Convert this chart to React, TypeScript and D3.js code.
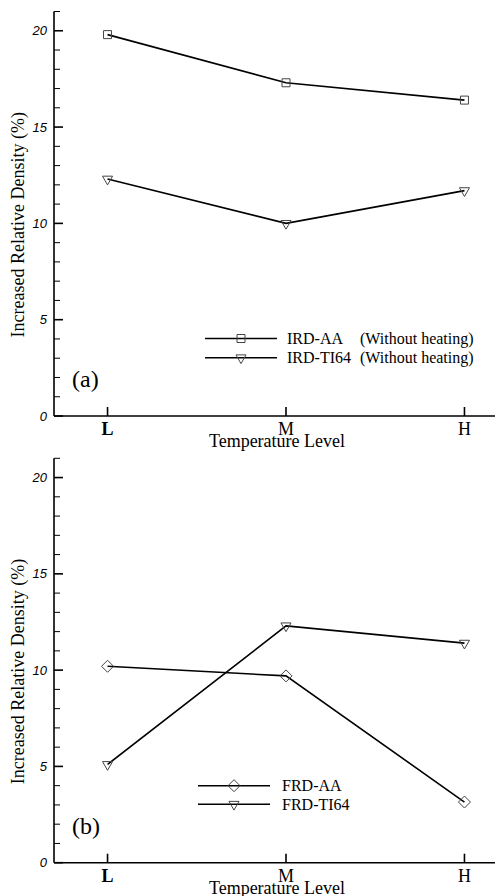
import { useEffect, useRef } from "react";
import * as d3 from "d3";

// categories on the x axis (1 = L, 2 = M, 3 = H)
const levels = ["L", "M", "H"];
const yTicks = [0, 5, 10, 15, 20];

// panel (a)
const irdAA = [19.8, 17.3, 16.4];
const irdTI64 = [12.3, 10.0, 11.7];
// panel (b)
const frdAA = [10.2, 9.7, 3.15];
const frdTI64 = [5.1, 12.3, 11.4];

const panels = [
  {
    tag: "(a)",
    top: 11.5,
    bottom: 416,
    series: [
      { name: "IRD-AA", note: "(Without heating)", values: irdAA, symbol: "square" },
      { name: "IRD-TI64", note: "(Without heating)", values: irdTI64, symbol: "triangle" },
    ],
    legend: { x1: 205, x2: 277, y: 338.5, gap: 19.3, textX: 287, noteX: 360 },
  },
  {
    tag: "(b)",
    top: 458.3,
    bottom: 862.7,
    series: [
      { name: "FRD-AA", note: "", values: frdAA, symbol: "diamond" },
      { name: "FRD-TI64", note: "", values: frdTI64, symbol: "triangle" },
    ],
    legend: { x1: 198, x2: 270, y: 785.7, gap: 18.6, textX: 282, noteX: 0 },
  },
];

const serif = "'Liberation Serif', 'Times New Roman', serif";
const sans = "'Liberation Sans', Arial, sans-serif";

function markerPath(kind: string) {
  if (kind === "square") return d3.symbol(d3.symbolSquare, 64)()!;
  if (kind === "triangle") return d3.symbol(d3.symbolTriangle, 44)()!;
  return "M0,-6L6,0L0,6L-6,0Z";
}

export default function App() {
  const svgRef = useRef<SVGSVGElement>(null);

  useEffect(() => {
    const svg = d3.select(svgRef.current);
    svg.selectAll("*").remove();

    const width = 495;
    const left = 54;
    const x = d3.scaleLinear().domain([0.7, 3.3]).range([left, 518]);

    panels.forEach((p) => {
      const y = d3.scaleLinear().domain([0, 21]).range([p.bottom, p.top]);
      const g = svg.append("g");

      // left axis line + ticks
      g.append("line")
        .attr("x1", left).attr("x2", left)
        .attr("y1", y(21)).attr("y2", y(0))
        .attr("stroke", "#000").attr("stroke-width", 1.6);
      d3.range(0, 22).forEach((v) => {
        const major = v % 5 === 0;
        g.append("line")
          .attr("x1", left).attr("x2", left + (major ? 9 : 6))
          .attr("y1", y(v)).attr("y2", y(v))
          .attr("stroke", "#000").attr("stroke-width", major ? 1.6 : 1);
      });
      g.selectAll("text.ytick")
        .data(yTicks)
        .enter()
        .append("text")
        .attr("class", "ytick")
        .attr("x", 47)
        .attr("y", (d) => y(d) + 4.5)
        .attr("text-anchor", "end")
        .attr("font-family", sans)
        .attr("font-style", "italic")
        .attr("font-size", 13)
        .text((d) => d);

      // bottom axis
      g.append("line")
        .attr("x1", left).attr("x2", width)
        .attr("y1", y(0)).attr("y2", y(0))
        .attr("stroke", "#000").attr("stroke-width", 1.6);
      levels.forEach((lv, i) => {
        g.append("line")
          .attr("x1", x(i + 1)).attr("x2", x(i + 1))
          .attr("y1", y(0)).attr("y2", y(0) - 9)
          .attr("stroke", "#000").attr("stroke-width", 1.6);
        g.append("text")
          .attr("x", x(i + 1))
          .attr("y", y(0) + 19)
          .attr("text-anchor", "middle")
          .attr("font-family", serif)
          .attr("font-weight", i === 0 ? "bold" : "normal")
          .attr("font-size", 18)
          .text(lv);
      });
      g.append("text")
        .attr("x", 277)
        .attr("y", y(0) + 31)
        .attr("text-anchor", "middle")
        .attr("font-family", serif)
        .attr("font-size", 18)
        .text("Temperature Level");

      // y label
      const cy = (y(21) + y(0)) / 2 + 11;
      g.append("text")
        .attr("transform", `translate(24,${cy}) rotate(-90)`)
        .attr("text-anchor", "middle")
        .attr("font-family", serif)
        .attr("font-size", 18)
        .text("Increased Relative Density (%)");

      // panel tag
      g.append("text")
        .attr("x", 72)
        .attr("y", y(0) - 29)
        .attr("font-family", serif)
        .attr("font-size", 24)
        .text(p.tag);

      // series
      const line = d3
        .line<number>()
        .x((_, i) => x(i + 1))
        .y((d) => y(d));
      p.series.forEach((s, si) => {
        g.append("path")
          .attr("d", line(s.values)!)
          .attr("fill", "none")
          .attr("stroke", "#000")
          .attr("stroke-width", 1.6);
        g.selectAll(`path.m${si}`)
          .data(s.values)
          .enter()
          .append("path")
          .attr("class", `m${si}`)
          .attr("d", markerPath(s.symbol))
          .attr("transform", (d, i) =>
            `translate(${x(i + 1)},${y(d)})${s.symbol === "triangle" ? " rotate(180)" : ""}`)
          .attr("fill", "none")
          .attr("stroke", "#444")
          .attr("stroke-width", 1);

        // legend
        const L = p.legend;
        const ly = L.y + si * L.gap;
        g.append("line")
          .attr("x1", L.x1).attr("x2", L.x2)
          .attr("y1", ly).attr("y2", ly)
          .attr("stroke", "#000").attr("stroke-width", 1.6);
        g.append("path")
          .attr("d", markerPath(s.symbol))
          .attr("transform", `translate(${(L.x1 + L.x2) / 2},${ly})${s.symbol === "triangle" ? " rotate(180)" : ""}`)
          .attr("fill", "none")
          .attr("stroke", "#444")
          .attr("stroke-width", 1);
        g.append("text")
          .attr("x", L.textX)
          .attr("y", ly + 5.5)
          .attr("font-family", serif)
          .attr("font-size", 16)
          .text(s.name);
        if (s.note) {
          g.append("text")
            .attr("x", L.noteX)
            .attr("y", ly + 5.5)
            .attr("font-family", serif)
            .attr("font-size", 16)
            .text(s.note);
        }
      });
    });
  }, []);

  return (
    <svg
      ref={svgRef}
      width={495}
      height={896}
      style={{ position: "absolute", left: 0, top: 0, background: "#fff" }}
    />
  );
}
